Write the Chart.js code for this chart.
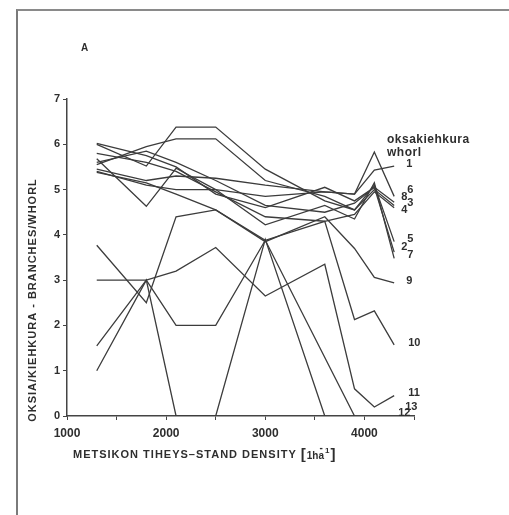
<!DOCTYPE html>
<html>
<head>
<meta charset="utf-8">
<script src="https://cdn.jsdelivr.net/npm/chart.js@4"></script>
<style>
  html, body { margin: 0; padding: 0; background: #fff; }
  #wrap { position: relative; width: 509px; height: 515px; overflow: hidden; }
  #frame { position: absolute; left: 16px; top: 9px; width: 520px; height: 520px;
           border-left: 2px solid #7a7a7a; border-top: 2px solid #8a8a8a; }
  canvas { position: absolute; left: 0; top: 0; }
</style>
</head>
<body>
<div id="wrap">
  <div id="frame"></div>
  <canvas id="chart" width="509" height="515"></canvas>
</div>
<script>
// stand densities (1/ha) where whorls were counted
const densities = [1300, 1800, 2100, 2500, 3000, 3600, 3900, 4100, 4300];

// branches per whorl, one array per whorl number
const whorl1  = [5.45, 5.20, 5.30, 5.25, 5.10, 4.95, 4.90, 5.43, 5.52];
const whorl2  = [5.60, 5.85, 5.60, 5.20, 4.65, 4.50, 4.70, 5.05, 3.62];
const whorl3  = [6.00, 5.52, 6.38, 6.38, 5.45, 4.75, 4.55, 5.00, 4.65];
const whorl4  = [5.80, 5.60, 5.40, 4.95, 4.40, 4.30, 4.45, 4.95, 4.60];
const whorl5  = [5.55, 5.95, 6.12, 6.12, 5.20, 4.85, 4.55, 5.10, 3.85];
const whorl6  = [5.40, 5.10, 5.00, 5.00, 4.85, 4.95, 4.90, 5.83, 4.85];
const whorl7  = [5.68, 4.63, 5.47, 5.00, 4.22, 4.65, 4.35, 5.15, 3.48];
const whorl8  = [6.02, 5.75, 5.50, 4.90, 4.60, 5.05, 4.75, 5.05, 4.72];
const whorl9  = [5.38, 5.15, 4.90, 4.55, 3.85, 4.40, 3.70, 3.06, 2.94];
const whorl10 = [3.77, 2.50, 4.40, 4.55, 3.88, 4.30, 2.13, 2.32, 1.57];
const whorl11 = [3.00, 3.00, 3.20, 3.72, 2.65, 3.35, 0.60, 0.20, 0.45];
const whorl12 = [1.00, 3.00, 0.00, 0.00, 3.90, 0.00, null, null, null];
const whorl13 = [1.55, 3.00, 2.00, 2.00, 3.88, null, 0.00, null, null];

const whorlSeries = [whorl1, whorl2, whorl3, whorl4, whorl5, whorl6, whorl7,
                     whorl8, whorl9, whorl10, whorl11, whorl12, whorl13];
const whorlNames = ["1", "2", "3", "4", "5", "6", "7", "8", "9", "10", "11", "12", "13"];

// where each whorl number is written at the right end (branches/whorl)
const labelLevels = [5.56, 3.73, 4.70, 4.55, 3.91, 4.99, 3.55, 4.83, 2.98, 1.61, 0.51, 0.07, 0.20];
// horizontal offsets of those labels from the last density, px
const labelShift = [12, 7, 13, 7, 13, 13, 13, 7, 12, 14, 14, 4, 11];

const ink = "#2e2e2e";
const lineInk = "#3c3c3c";
const font = "'Liberation Sans', Arial, sans-serif";

const datasets = whorlSeries.map((vals, i) => ({
  label: whorlNames[i],
  data: densities.map((d, j) => ({ x: d, y: vals[j] })),
  borderColor: lineInk,
  borderWidth: 1.3,
  pointRadius: 0,
  fill: false,
  tension: 0,
  spanGaps: true,
}));

const textPlugin = {
  id: "figureText",
  afterDraw(chart) {
    const ctx = chart.ctx;
    const xs = chart.scales.x;
    const ys = chart.scales.y;
    ctx.save();
    ctx.fillStyle = ink;

    // panel letter
    ctx.font = "bold 10px " + font;
    ctx.textAlign = "left";
    ctx.textBaseline = "middle";
    ctx.fillText("A", 81, 48);

    // y title
    ctx.save();
    ctx.translate(33, 300);
    ctx.rotate(-Math.PI / 2);
    ctx.font = "bold 11px " + font;
    ctx.letterSpacing = "1px";
    ctx.textAlign = "center";
    ctx.fillText("OKSIA/KIEHKURA - BRANCHES/WHORL", 0, 0);
    ctx.restore();

    // x title
    ctx.font = "bold 11px " + font;
    ctx.letterSpacing = "1px";
    ctx.textAlign = "left";
    const main = "METSIKON TIHEYS\u2013STAND DENSITY ";
    ctx.fillText(main, 73, 455);
    let px = 73 + ctx.measureText(main).width;
    ctx.font = "bold 15px " + font;
    ctx.letterSpacing = "0px";
    ctx.fillText("[", px, 455);
    px += ctx.measureText("[").width + 1;
    ctx.font = "bold 10px " + font;
    ctx.fillText("1h", px, 456);
    px += ctx.measureText("1h").width;
    ctx.fillText("a", px, 456);
    ctx.fillText("-", px + 1, 448);
    px += ctx.measureText("a").width + 1;
    ctx.font = "bold 8px " + font;
    ctx.fillText("1", px, 451);
    px += ctx.measureText("1").width + 1;
    ctx.font = "bold 15px " + font;
    ctx.fillText("]", px, 455);

    // legend heading
    ctx.font = "bold 12px " + font;
    ctx.letterSpacing = "0.5px";
    ctx.fillText("oksakiehkura", 387, 140);
    ctx.fillText("whorl", 387, 153);

    // whorl numbers at right end
    ctx.font = "bold 11px " + font;
    ctx.letterSpacing = "0px";
    const xEnd = xs.getPixelForValue(densities[densities.length - 1]);
    whorlNames.forEach((name, i) => {
      ctx.fillText(name, xEnd + labelShift[i], ys.getPixelForValue(labelLevels[i]));
    });
    ctx.restore();
  },
};

new Chart(document.getElementById("chart"), {
  type: "line",
  data: { datasets },
  options: {
    responsive: false,
    animation: false,
    layout: { padding: { top: 99, right: 95, left: 0, bottom: 0 } },
    plugins: { legend: { display: false }, tooltip: { enabled: false } },
    scales: {
      x: {
        type: "linear",
        min: 1000,
        max: 4500,
        afterFit: (s) => { s.height = 99; },
        border: { color: "#444", width: 1.5 },
        grid: { drawOnChartArea: false, tickLength: 4, color: "#444" },
        ticks: {
          stepSize: 500,
          autoSkip: false,
          maxRotation: 0,
          padding: 6,
          color: ink,
          font: { family: font, size: 12, weight: "bold" },
          callback: (v) => (v % 1000 === 0 ? String(v) : ""),
        },
      },
      y: {
        min: 0,
        max: 7,
        afterFit: (s) => { s.width = 67; },
        border: { color: "#444", width: 1.5 },
        grid: { drawOnChartArea: false, tickLength: 4, color: "#444" },
        ticks: {
          stepSize: 1,
          padding: 3,
          color: ink,
          font: { family: font, size: 11, weight: "bold" },
        },
      },
    },
  },
  plugins: [textPlugin],
});
</script>
</body>
</html>
